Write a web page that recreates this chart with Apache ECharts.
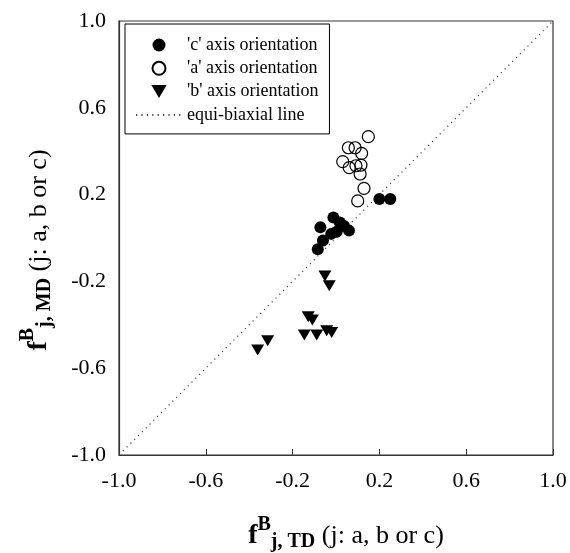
<!DOCTYPE html>
<html>
<head>
<meta charset="utf-8">
<script src="https://cdn.jsdelivr.net/npm/echarts@6/dist/echarts.min.js"></script>
<style>
  html, body { margin: 0; padding: 0; background: #fff; }
  #chart { width: 570px; height: 553px; }
</style>
</head>
<body>
<div id="chart"></div>
<script>
// tick values shared by both axes
const ticks = [-1.0, -0.6, -0.2, 0.2, 0.6, 1.0];

// 'c' axis orientation (filled circles)
const cTD = [0.20, 0.25, -0.072, -0.012, 0.018, 0.037, 0.060, -0.022, 0.003, -0.060, -0.084];
const cMD = [0.18, 0.18, 0.050, 0.095, 0.071, 0.055, 0.034, 0.019, 0.029, -0.012, -0.052];

// 'a' axis orientation (open circles)
const aTD = [0.149, 0.057, 0.088, 0.118, 0.031, 0.061, 0.092, 0.115, 0.111, 0.129, 0.100];
const aMD = [0.467, 0.416, 0.416, 0.390, 0.352, 0.324, 0.333, 0.336, 0.295, 0.229, 0.171];

// 'b' axis orientation (down triangles)
const bTD = [-0.051, -0.031, -0.128, -0.109, -0.146, -0.089, -0.043, -0.020, -0.315, -0.361];
const bMD = [-0.175, -0.220, -0.363, -0.378, -0.447, -0.447, -0.427, -0.436, -0.473, -0.516];

// equi-biaxial line end points
const eqTD = [-1.0, 1.0];
const eqMD = [-1.0, 1.0];

const seriesNames = ["'c' axis orientation", "'a' axis orientation", "'b' axis orientation", 'equi-biaxial line'];

const pairs = (xs, ys) => xs.map((x, i) => [x, ys[i]]);
const serif = 'Liberation Serif';
const downTriangle = 'path://M0,0L13,0L6.5,11Z';

// rich styles for "f^B_j,XX (j: a, b or c)"; every token is 40px tall,
// top/bottom padding sets the super/subscript offsets. padL/padR nudge the title along the axis
function titleRich(padL, padR) {
  return {
    f: { fontFamily: serif, fontWeight: 'bold', fontSize: 28, lineHeight: 28, padding: [7, 0, 5, padL], color: '#000' },
    sup: { fontFamily: serif, fontWeight: 'bold', fontSize: 20, lineHeight: 20, padding: [0, 0, 20, 0], color: '#000' },
    sub: { fontFamily: serif, fontWeight: 'bold', fontSize: 20, lineHeight: 20, padding: [17, 0, 3, 0], color: '#000' },
    n: { fontFamily: serif, fontSize: 26, lineHeight: 26, padding: [8, padR, 6, 0], color: '#000' }
  };
}

const axisCommon = {
  type: 'value',
  min: ticks[0],
  max: ticks[ticks.length - 1],
  interval: +(ticks[1] - ticks[0]).toFixed(2),
  nameLocation: 'middle',
  axisLine: { onZero: false, lineStyle: { color: '#333', width: 1.2 } },
  splitLine: { show: false },
  axisLabel: {
    fontFamily: serif,
    fontSize: 22,
    color: '#000',
    showMinLabel: true,
    showMaxLabel: true,
    formatter: (v) => v.toFixed(1)
  }
};

const chart = echarts.init(document.getElementById('chart'), null, { renderer: 'canvas' });

chart.setOption({
  animation: false,
  backgroundColor: '#fff',
  grid: {
    left: 119, right: 17, top: 21, bottom: 98,
    outerBoundsMode: 'none',
    containLabel: false,
    show: true, borderColor: '#333', borderWidth: 1.2, backgroundColor: 'transparent'
  },
  legend: {
    orient: 'vertical',
    left: 125,
    top: 24,
    padding: [12, 11, 10, 10],
    itemGap: 5.3,
    itemWidth: 46,
    itemHeight: 13,
    borderColor: '#000',
    borderWidth: 1,
    backgroundColor: '#fff',
    textStyle: { fontFamily: serif, fontSize: 18, lineHeight: 18, color: '#000' },
    data: [
      { name: seriesNames[0], icon: 'circle' },
      { name: seriesNames[1], icon: 'circle' },
      { name: seriesNames[2], icon: downTriangle, symbolRotate: 0 },
      { name: seriesNames[3] }
    ]
  },
  xAxis: Object.assign({}, axisCommon, {
    name: '{f|f}{sup|B}{sub|j, TD}{n| (j: a, b or c)}',
    nameGap: 66,
    nameTextStyle: { rich: titleRich(20, 0) },
    axisTick: { show: true, inside: true, length: 6, lineStyle: { color: '#333' } },
    axisLabel: Object.assign({}, axisCommon.axisLabel, { margin: 15 })
  }),
  yAxis: Object.assign({}, axisCommon, {
    name: '{f|f}{sup|B}{sub|j, MD}{n| (j: a, b or c)}',
    nameGap: 67,
    nameRotate: 90,
    nameTextStyle: { rich: titleRich(0, 24) },
    axisTick: { show: false },
    axisLabel: Object.assign({}, axisCommon.axisLabel, { margin: 13 })
  }),
  series: [
    {
      name: seriesNames[0],
      type: 'scatter',
      symbol: 'circle',
      symbolSize: 12,
      itemStyle: { color: '#000', opacity: 1 },
      data: pairs(cTD, cMD),
      z: 3
    },
    {
      name: seriesNames[1],
      type: 'scatter',
      symbol: 'circle',
      symbolSize: 12,
      itemStyle: { color: 'rgba(255,255,255,0)', borderColor: '#000', borderWidth: 1.2, opacity: 1 },
      data: pairs(aTD, aMD),
      z: 3
    },
    {
      name: seriesNames[2],
      type: 'scatter',
      symbol: 'triangle',
      symbolRotate: 180,
      symbolSize: [13, 11],
      itemStyle: { color: '#000', opacity: 1 },
      data: pairs(bTD, bMD),
      z: 3
    },
    {
      name: seriesNames[3],
      type: 'line',
      showSymbol: false,
      symbol: 'none',
      itemStyle: { color: 'rgba(0,0,0,0)', borderWidth: 0 },
      lineStyle: { color: '#444', width: 1.2, type: [1.2, 4.2] },
      data: pairs(eqTD, eqMD),
      z: 2
    }
  ]
});
</script>
</body>
</html>
